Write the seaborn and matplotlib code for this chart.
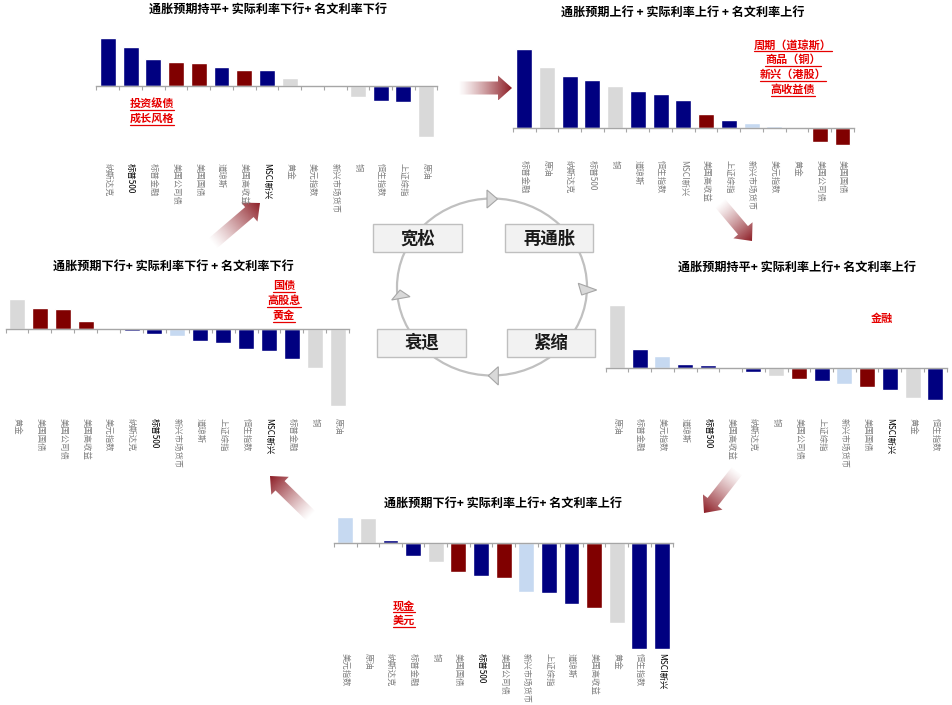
#!/usr/bin/env python3
"""
Asset performance across the four phases of the rates / inflation cycle.
"""

import numpy as np
import pandas as pd
import matplotlib
matplotlib.use("Agg")
import matplotlib.pyplot as plt
from matplotlib.patches import Polygon, Ellipse, Rectangle
from matplotlib.colors import to_rgb
import seaborn as sns

sns.set_theme(style="white")
plt.rcParams["font.family"] = ["Noto Sans CJK SC", "DejaVu Sans"]
plt.rcParams["axes.unicode_minus"] = False

W, H = 953, 705

# ---- data (relative performance) ----
p1_names = ["纳斯达克", "标普500", "标普金融", "美国公司债", "美国国债", "道琼斯", "美国高收益",
            "MSCI新兴", "黄金", "美元指数", "新兴市场货币", "铜", "恒生指数", "上证综指", "原油"]
p1_vals = [48.3, 39.0, 26.7, 24.0, 22.7, 19.0, 15.7, 16.0, 8.0, 0.3, -0.8, -11.0, -14.7, -15.7, -50.7]

p2_names = ["标普金融", "原油", "纳斯达克", "标普500", "铜", "道琼斯", "恒生指数", "MSCI新兴",
            "美国高收益", "上证综指", "新兴市场货币", "美元指数", "黄金", "美国公司债", "美国国债"]
p2_vals = [78.7, 61.0, 52.0, 47.3, 41.7, 36.7, 34.0, 27.7, 13.7, 7.7, 4.3, 1.7, 0.3, -14.0, -17.7]

p3_names = ["黄金", "美国国债", "美国公司债", "美国高收益", "美元指数", "纳斯达克", "标普500",
            "新兴市场货币", "道琼斯", "上证综指", "恒生指数", "MSCI新兴", "标普金融", "铜", "原油"]
p3_vals = [30.3, 21.3, 19.7, 8.0, 0.3, -1.7, -5.3, -7.0, -11.7, -14.0, -20.0, -22.0, -29.7, -39.3, -76.7]

p4_names = ["原油", "标普金融", "美元指数", "道琼斯", "标普500", "美国高收益", "纳斯达克", "铜",
            "美国公司债", "上证综指", "新兴市场货币", "美国国债", "MSCI新兴", "黄金", "恒生指数"]
p4_vals = [62.7, 18.7, 11.7, 3.3, 2.7, 0.0, -4.0, -8.0, -11.7, -13.3, -16.0, -19.7, -22.7, -30.0, -32.3]

p5_names = ["美元指数", "原油", "纳斯达克", "标普金融", "铜", "美国国债", "标普500", "美国公司债",
            "新兴市场货币", "上证综指", "道琼斯", "美国高收益", "黄金", "恒生指数", "MSCI新兴"]
p5_vals = [26.0, 25.3, 3.7, -12.3, -18.7, -29.0, -32.3, -34.3, -48.7, -50.0, -61.0, -65.0, -79.3,
           -105.7, -105.7]

titles = ["通胀预期持平+ 实际利率下行+ 名文利率下行",
          "通胀预期上行 + 实际利率上行 + 名文利率上行",
          "通胀预期下行+ 实际利率下行 + 名文利率下行",
          "通胀预期持平+ 实际利率上行+ 名文利率上行",
          "通胀预期下行+ 实际利率上行+ 名文利率上行"]

notes = [["投资级债", "成长风格"],
         ["周期（道琼斯）", "商品（铜）", "新兴（港股）", "高收益债"],
         ["国债", "高股息", "黄金"],
         ["金融"],
         ["现金", "美元"]]

phases = ["宽松", "再通胀", "衰退", "紧缩"]

# asset class colours
NAVY, DRED, GREY, LBLUE = "#000080", "#800000", "#d9d9d9", "#c6d9f1"
asset_color = {
    "纳斯达克": NAVY, "标普500": NAVY, "标普金融": NAVY, "道琼斯": NAVY, "MSCI新兴": NAVY,
    "恒生指数": NAVY, "上证综指": NAVY,
    "美国公司债": DRED, "美国国债": DRED, "美国高收益": DRED,
    "黄金": GREY, "铜": GREY, "原油": GREY,
    "美元指数": LBLUE, "新兴市场货币": LBLUE,
}


def px_rect(x0, x1, ytop, ybot):
    return [x0 / W, 1 - ybot / H, (x1 - x0) / W, (ybot - ytop) / H]


def draw_panel(fig, names, vals, x0, x1, base, up, down, label_gap, dark_labels=True):
    ax = fig.add_axes(px_rect(x0, x1, base - up, base + down))
    ax.patch.set_alpha(0)
    df = pd.DataFrame({"asset": names, "value": vals})
    sns.barplot(data=df, x="asset", y="value", hue="asset", palette=asset_color,
                legend=False, width=0.7, saturation=1, ax=ax)
    n = len(names)
    ax.set_xlim(-0.5, n - 0.5)
    ax.set_ylim(-down, up)
    for s in ["top", "right", "left"]:
        ax.spines[s].set_visible(False)
    ax.spines["bottom"].set_position(("data", 0))
    ax.spines["bottom"].set_color("#a6a6a6")
    ax.spines["bottom"].set_linewidth(1.0)
    ax.set_yticks([])
    ax.set_xlabel("")
    ax.set_ylabel("")
    ax.set_xticks(range(n))
    ax.set_xticklabels(names, rotation=270, fontsize=6)
    for lab, name in zip(ax.get_xticklabels(), names):
        has_ascii = any(ord(c) < 128 for c in name)
        lab.set_color("#000000" if (dark_labels and has_ascii) else "#7f7f7f")
    ax.set_xticks(np.arange(-0.5, n, 1.0), minor=True)
    ax.tick_params(axis="x", which="major", length=0, pad=label_gap * 0.72)
    ax.tick_params(axis="x", which="minor", length=3, width=0.8, color="#a6a6a6",
                   direction="out", bottom=True)
    return ax


def grad_arrow(ax, tail, tip, color="#8c1c24"):
    tail, tip = np.array(tail, float), np.array(tip, float)
    d = tip - tail
    L = np.hypot(*d)
    u = d / L
    nrm = np.array([-u[1], u[0]])
    hl, sw, hw = 14, 6.5, 12.5
    neck = tip - u * hl
    pts = [tail + nrm * sw, neck + nrm * sw, neck + nrm * hw, tip,
           neck - nrm * hw, neck - nrm * sw, tail - nrm * sw]
    poly = Polygon(pts, closed=True, facecolor="none", edgecolor="none")
    ax.add_patch(poly)
    xs = [p[0] for p in pts]
    ys = [p[1] for p in pts]
    bx0, bx1, by0, by1 = min(xs), max(xs), min(ys), max(ys)
    xx, yy = np.meshgrid(np.linspace(bx0, bx1, 120), np.linspace(by0, by1, 120))
    t = ((xx - tail[0]) * u[0] + (yy - tail[1]) * u[1]) / L
    t = np.clip(t, 0, 1)
    rgba = np.zeros(xx.shape + (4,))
    rgba[..., :3] = to_rgb(color)
    rgba[..., 3] = t ** 1.2
    im = ax.imshow(rgba, extent=(bx0, bx1, by1, by0), origin="upper",
                   interpolation="bilinear", aspect="auto", zorder=3)
    im.set_clip_path(poly)


def red_note(ax, lines, cx, y0, dy, size=8.0, underline=True):
    spx = size / 0.72
    for i, line in enumerate(lines):
        y = y0 + i * dy
        ax.text(cx, y, line, ha="center", va="center", fontsize=size,
                fontweight="bold", color="#e60000", zorder=5)
        if underline:
            w = len(line) * spx
            ax.plot([cx - w / 2, cx + w / 2], [y + 0.58 * spx] * 2,
                    color="#e60000", lw=0.9, zorder=5)


def main():
    fig = plt.figure(figsize=(W / 100, H / 100), dpi=100)
    fig.patch.set_facecolor("white")

    # overlay in pixel coordinates
    ov = fig.add_axes([0, 0, 1, 1])
    ov.set_axis_off()

    # five bar panels
    draw_panel(fig, p1_names, p1_vals, 96.5, 437.5, 86.0, 56, 64, 77)
    draw_panel(fig, p2_names, p2_vals, 512.8, 853.9, 127.7, 85, 25, 32, dark_labels=False)
    draw_panel(fig, p3_names, p3_vals, 5.5, 349.2, 329.0, 40, 85, 89)
    draw_panel(fig, p4_names, p4_vals, 605.6, 946.7, 367.7, 70, 40, 50.6)
    draw_panel(fig, p5_names, p5_vals, 334.0, 673.3, 543.3, 30, 112, 110)

    # titles
    title_pos = [(268, 9.5), (683, 12), (173, 266.5), (797, 267.5), (503, 503.5)]
    for t, (x, y) in zip(titles, title_pos):
        ov.text(x, y, t, ha="center", va="center", fontsize=8.7, fontweight="bold",
                color="black", zorder=5)

    # highlighted assets per phase
    red_note(ov, notes[0], 152, 103.5, 15)
    red_note(ov, notes[1], 793, 45, 14.7)
    red_note(ov, notes[2], 284, 285.5, 15)
    red_note(ov, notes[3], 882, 318.5, 15, underline=False)
    red_note(ov, notes[4], 404, 606, 14.5)

    # cycle in the middle
    ov.add_patch(Ellipse((492, 287), 190, 177, facecolor="none", edgecolor="#c0c0c0",
                         lw=1.6, zorder=2))
    tris = [
        [(487, 190), (497.5, 199), (487, 208)],
        [(578.3, 283.3), (596.7, 290), (581.7, 295)],
        [(498.3, 366.7), (488.3, 375.7), (498.3, 385)],
        [(391.7, 300), (400, 290), (410, 296.7)],
    ]
    for tri in tris:
        ov.add_patch(Polygon(tri, closed=True, facecolor="#d9d9d9", edgecolor="#a6a6a6",
                             lw=0.8, zorder=3))
    boxes = [(373.3, 224.3), (505.0, 224.3), (377.3, 329.0), (506.7, 329.0)]
    for name, (bx, by) in zip(phases, boxes):
        ov.add_patch(Rectangle((bx, by), 88.3, 28.0, facecolor="#f2f2f2",
                               edgecolor="#bfbfbf", lw=1.0, zorder=4))
        ov.text(bx + 44.2, by + 14.0, name, ha="center", va="center", fontsize=12.5,
                fontweight="bold", color="#1a1a1a", zorder=5)

    # flow arrows between phases
    grad_arrow(ov, (458, 88), (512, 88))
    grad_arrow(ov, (720, 203), (752, 241))
    grad_arrow(ov, (737, 471), (704, 513))
    grad_arrow(ov, (311, 516), (270, 476))
    grad_arrow(ov, (212, 244), (260, 203))

    ov.set_xlim(0, W)
    ov.set_ylim(H, 0)

    fig.savefig("out.png", dpi=100)
    plt.close(fig)


if __name__ == "__main__":
    main()
